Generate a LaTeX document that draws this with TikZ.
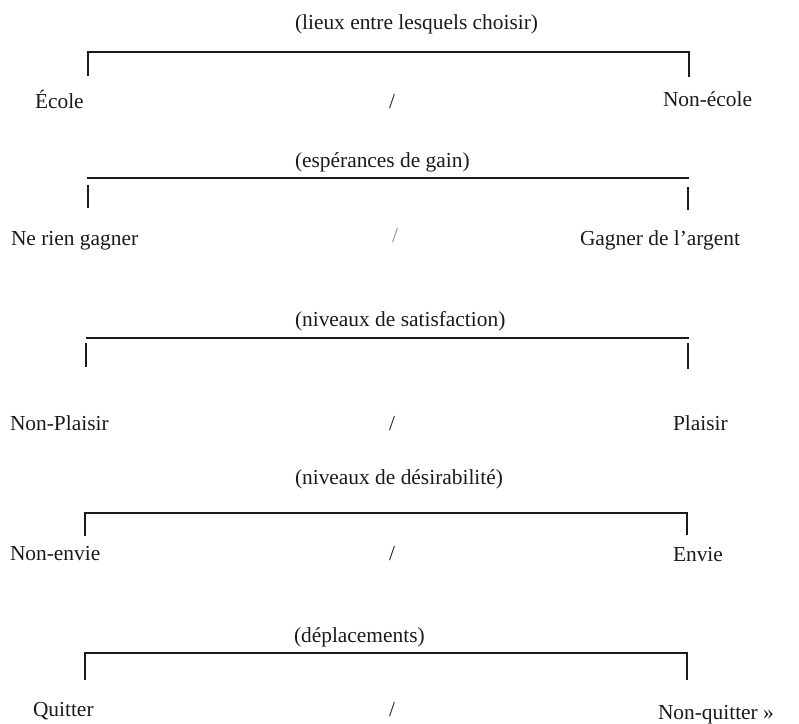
\documentclass[tikz,border=0pt]{standalone}
\usepackage{fontspec}
\setmainfont{Liberation Serif}
\definecolor{ink}{HTML}{1A1A1A}
\definecolor{faint}{HTML}{8C8C8C}
\begin{document}
\begin{tikzpicture}[x=1pt,y=-1pt,
  every node/.style={inner sep=0pt, outer sep=0pt, text=ink,
    font=\fontsize{21.4}{26}\selectfont},
  title/.style={anchor=base west},
  lbl/.style={anchor=base west},
  sep/.style={anchor=base},
  bar/.style={draw=ink, line width=2pt}]
\useasboundingbox (0,0) rectangle (799,723);

% (lieux entre lesquels choisir)
\node[title] (t1) at (295,29) {(lieux entre lesquels choisir)};
\coordinate (a1l) at (88,52);  \coordinate (a1r) at (689,52);
\coordinate (b1l) at (88,76);  \coordinate (b1r) at (689,77);
\draw[bar] (b1l) -- (a1l) -- (a1r) -- (b1r);
\node[lbl] (l1) at (35,108) {École};
\node[sep] (s1) at (392,108) {/};
\node[lbl] (r1) at (663,106) {Non-école};

% (espérances de gain)
\node[title] (t2) at (295,167) {(espérances de gain)};
\coordinate (a2l) at (87,178);  \coordinate (a2r) at (689,178);
\draw[bar] (a2l) -- (a2r);
\coordinate (c2l) at (88,185);  \coordinate (d2l) at (88,208);
\coordinate (c2r) at (688,187); \coordinate (d2r) at (688,210);
\draw[bar] (c2l) -- (d2l);
\draw[bar] (c2r) -- (d2r);
\node[lbl] (l2) at (11,245) {Ne rien gagner};
\node[sep, text=faint] (s2) at (395,242) {/};
\node[lbl] (r2) at (580,245) {Gagner de l’argent};

% (niveaux de satisfaction)
\node[title] (t3) at (295,326) {(niveaux de satisfaction)};
\coordinate (a3l) at (86,338);  \coordinate (a3r) at (689,338);
\draw[bar] (a3l) -- (a3r);
\coordinate (c3l) at (86,343);  \coordinate (d3l) at (86,367);
\coordinate (c3r) at (688,343); \coordinate (d3r) at (688,369);
\draw[bar] (c3l) -- (d3l);
\draw[bar] (c3r) -- (d3r);
\node[lbl] (l3) at (10,430) {Non-Plaisir};
\node[sep] (s3) at (392,430) {/};
\node[lbl] (r3) at (673,430) {Plaisir};

% (niveaux de désirabilité)
\node[title] (t4) at (295,484) {(niveaux de désirabilité)};
\coordinate (a4l) at (85,513);  \coordinate (a4r) at (687,513);
\coordinate (b4l) at (85,536);  \coordinate (b4r) at (687,535);
\draw[bar] (b4l) -- (a4l) -- (a4r) -- (b4r);
\node[lbl] (l4) at (10,560) {Non-envie};
\node[sep] (s4) at (392,560) {/};
\node[lbl] (r4) at (673,561) {Envie};

% (déplacements)
\node[title] (t5) at (294,642) {(déplacements)};
\coordinate (a5l) at (85,653);  \coordinate (a5r) at (687,653);
\coordinate (b5l) at (85,680);  \coordinate (b5r) at (687,680);
\draw[bar] (b5l) -- (a5l) -- (a5r) -- (b5r);
\node[lbl] (l5) at (33,716) {Quitter};
\node[sep] (s5) at (392,716) {/};
\node[lbl] (r5) at (658,719) {Non-quitter »};
\end{tikzpicture}
\end{document}
